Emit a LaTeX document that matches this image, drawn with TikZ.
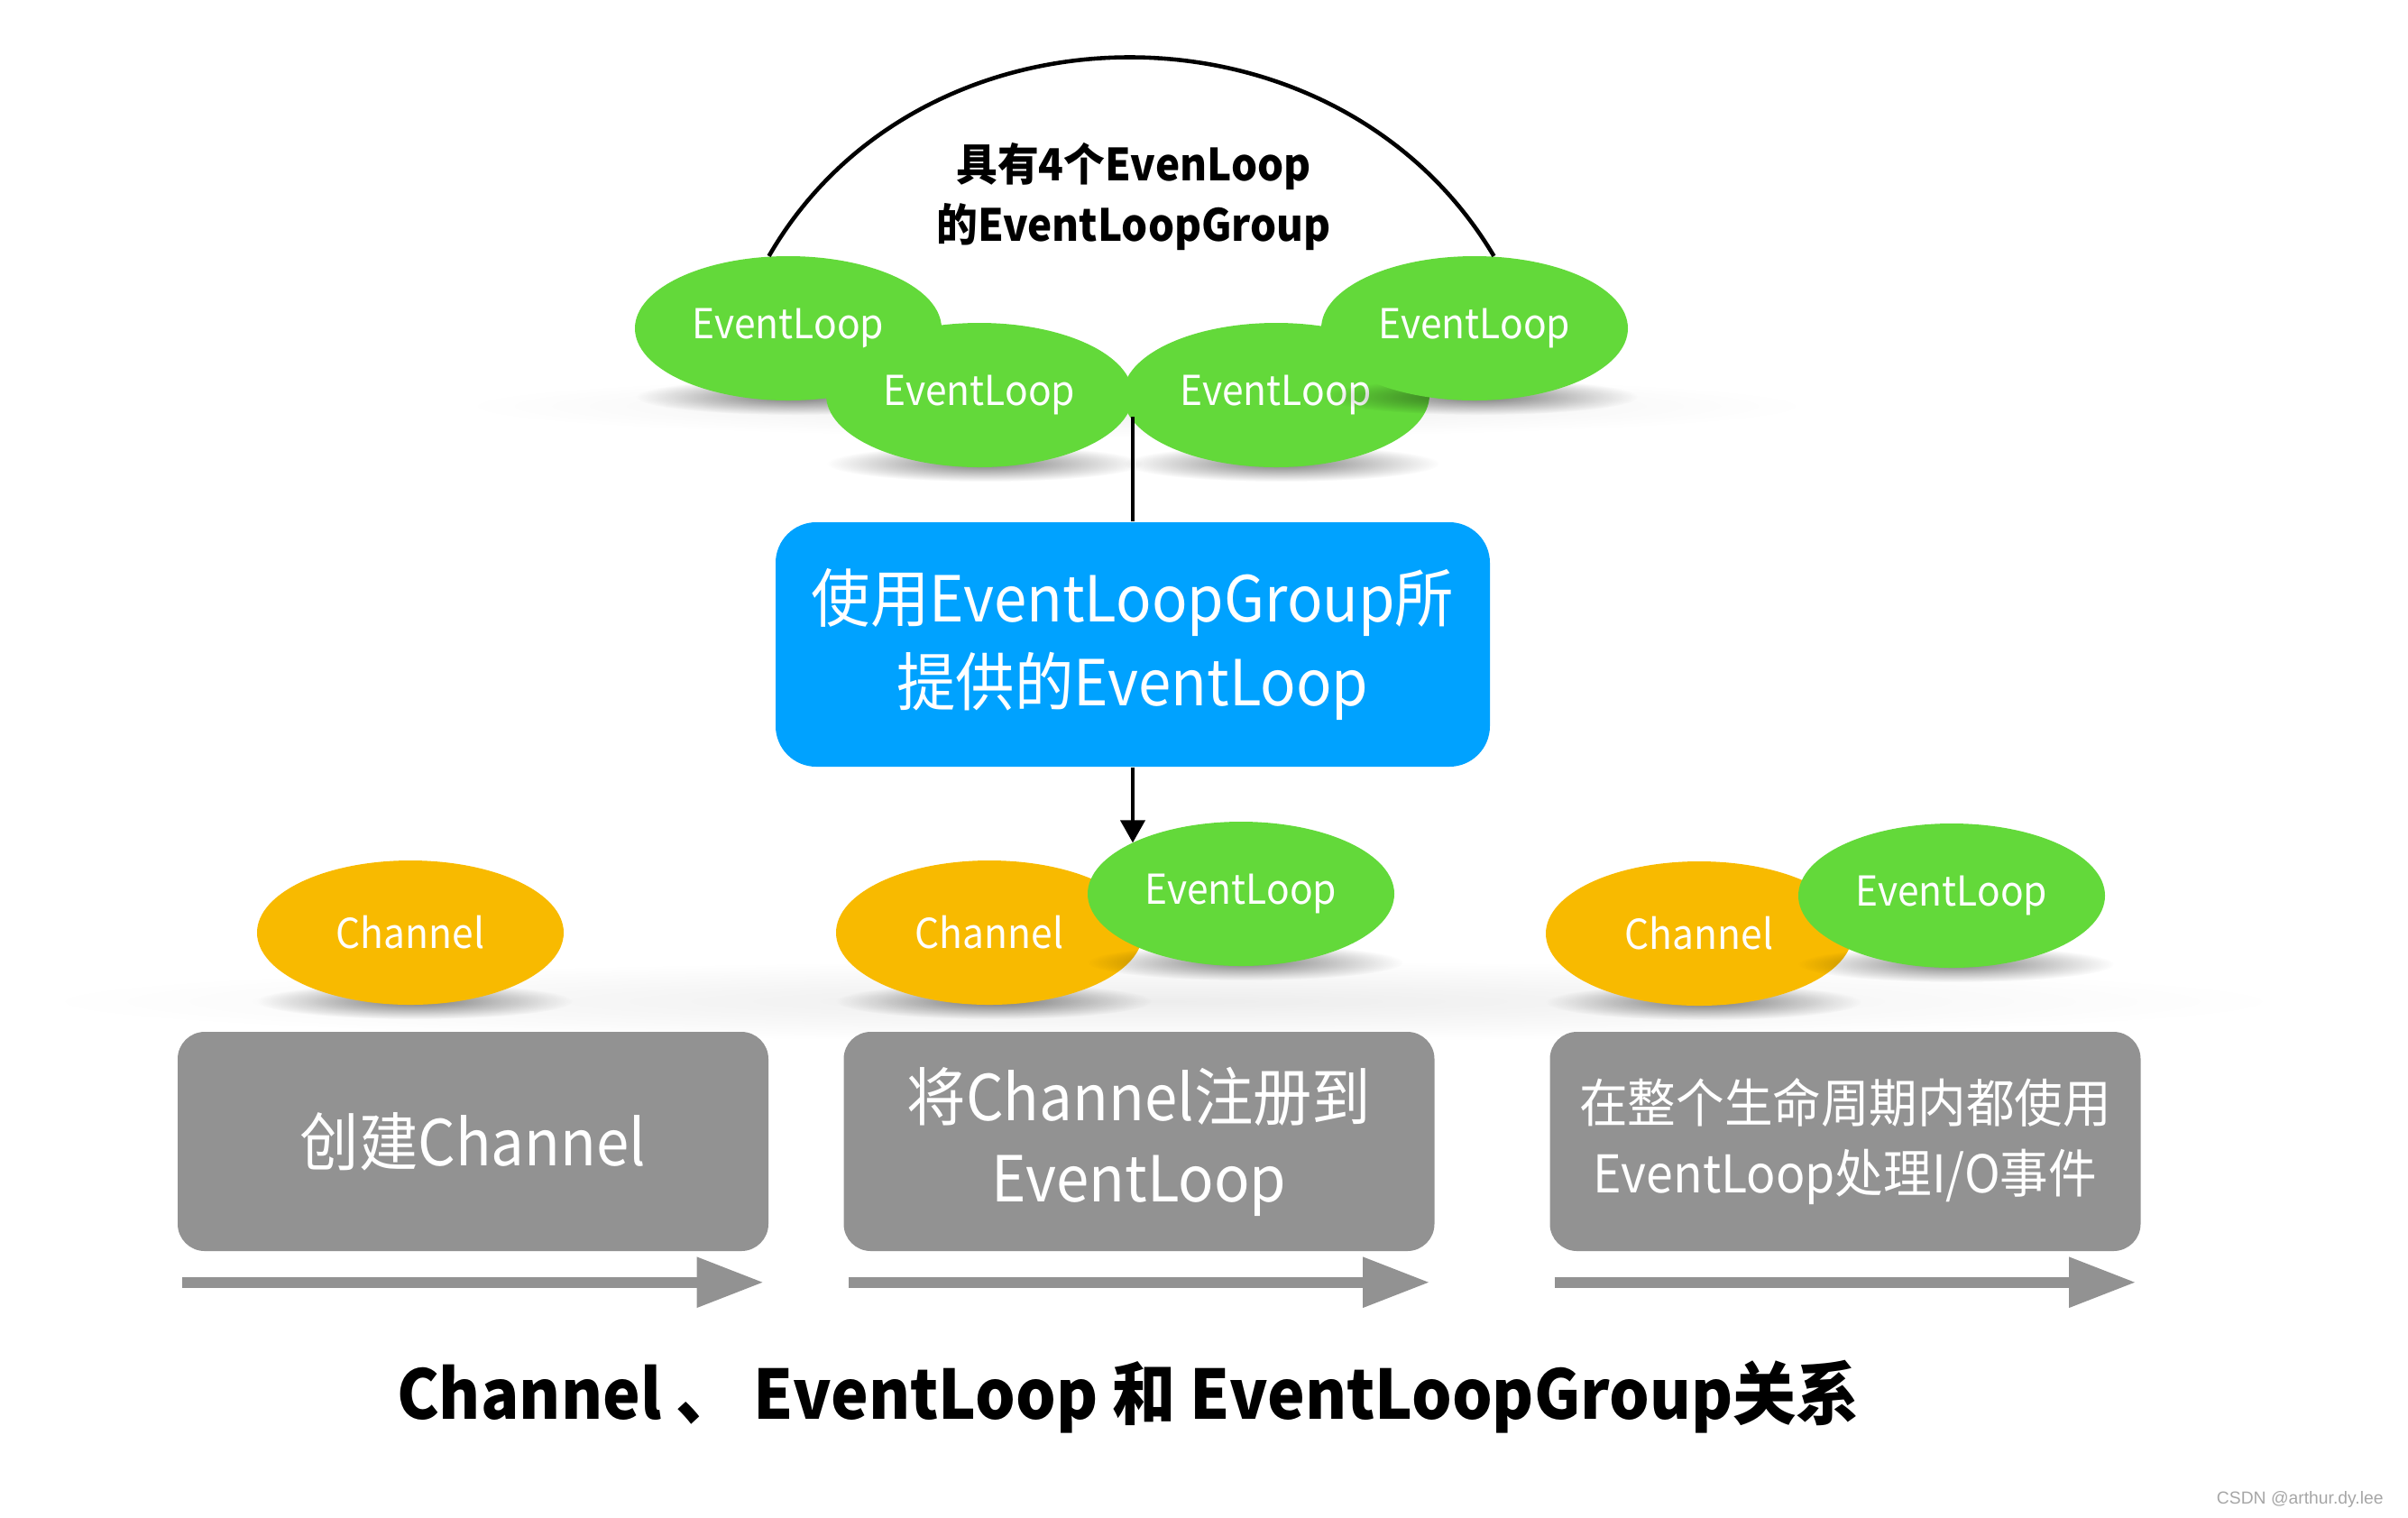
\documentclass[tikz,border=0pt]{standalone}
\usepackage{fontspec}
\setmainfont{Noto Sans CJK SC}[FakeStretch=0.93]
\newfontfamily\wmfont{Liberation Sans}
\usetikzlibrary{shapes.geometric, arrows.meta, calc, fadings}

\definecolor{loopgreen}{RGB}{99,217,58}
\definecolor{chanorange}{RGB}{248,186,0}
\definecolor{groupblue}{RGB}{0,162,255}
\definecolor{stepgray}{RGB}{146,146,146}
\tikzfading[name=soft shadow, inner color=transparent!0, outer color=transparent!100]

\begin{document}
\begin{tikzpicture}[
  blob/.style={ellipse, minimum width=3.4cm, minimum height=1.6cm, inner sep=0pt, text=white, font=\fontsize{13}{15}\selectfont},
  elnode/.style={blob, fill=loopgreen},
  channode/.style={blob, fill=chanorange},
  blur/.style={black, opacity=0.5, path fading=soft shadow},
  stepbox/.style={rounded corners=0.3cm, fill=stepgray, text=white, minimum width=6.55cm, minimum height=2.43cm, align=center},
  flow/.style={stepgray, line width=0.12cm, -{Triangle[length=0.74cm,width=0.53cm]}}
]
\useasboundingbox (0,0) rectangle (26.7,-16.82);

% EventLoopGroup - four EventLoops
\fill[black, opacity=0.07, path fading=soft shadow] (12.6,-4.5) ellipse (7.5 and 0.35);
\fill[blur] (8.8,-4.4) ellipse (1.75 and 0.2);
\node[elnode] (g1) at (8.74,-3.64) {EventLoop};
\fill[blur] (10.92,-5.14) ellipse (1.75 and 0.2);
\node[elnode] (g2) at (10.86,-4.38) {EventLoop};
\fill[blur] (14.21,-5.14) ellipse (1.75 and 0.2);
\node[elnode] (g3) at (14.15,-4.38) {EventLoop};
\fill[blur] (16.41,-4.4) ellipse (1.75 and 0.2);
\node[elnode] (g4) at (16.35,-3.64) {EventLoop};

\draw[line width=1.3pt] (g1.105) .. controls (10.22,0.1) and (14.82,0.1) .. (g4.75);
\node[font=\bfseries\fontsize{14}{19.3}\selectfont, align=center] (grouplabel) at (12.57,-2.18) {具有4个EvenLoop\\的EventLoopGroup};

% picked EventLoop
\coordinate (gap) at (12.56,-4.62);
\node[rounded corners=0.45cm, fill=groupblue, text=white, minimum width=7.92cm, minimum height=2.71cm, align=center,
  font=\fontsize{20}{26.5}\selectfont] (provider) at (12.56,-7.145) {使用EventLoopGroup所\\提供的EventLoop};
\draw[line width=1.2pt] (gap) -- (provider.north);

% Channels and their EventLoops
\fill[black, opacity=0.07, path fading=soft shadow] (12.9,-11.1) ellipse (12.5 and 0.45);
\fill[blur] (4.6,-11.1) ellipse (1.75 and 0.2);
\node[channode] (c1) at (4.55,-10.34) {Channel};
\fill[blur] (11.02,-11.1) ellipse (1.75 and 0.2);
\node[channode] (c2) at (10.97,-10.34) {Channel};
\fill[blur] (13.81,-10.67) ellipse (1.75 and 0.2);
\node[elnode] (r2) at (13.76,-9.91) {EventLoop};
\fill[blur] (18.89,-11.11) ellipse (1.75 and 0.2);
\node[channode] (c3) at (18.84,-10.35) {Channel};
\fill[blur] (21.69,-10.69) ellipse (1.75 and 0.2);
\node[elnode] (r3) at (21.64,-9.93) {EventLoop};

\draw[line width=1.2pt, -{Triangle[length=0.25cm,width=0.27cm]}] (provider.south) -- (provider.south |- r2.155);

% steps
\node[stepbox, font=\fontsize{20}{25.6}\selectfont] (s1) at (5.245,-12.655) {创建Channel};
\node[stepbox, font=\fontsize{20}{25.6}\selectfont] (s2) at (12.63,-12.655) {将Channel注册到\\EventLoop};
\node[stepbox, font=\fontsize{16.4}{22}\selectfont] (s3) at (20.46,-12.655) {在整个生命周期内都使用\\EventLoop处理I/O事件};
\draw[flow] ($(s1.south west)+(0.06,-0.34)$) -- ($(s1.south east)+(-0.06,-0.34)$);
\draw[flow] ($(s2.south west)+(0.06,-0.34)$) -- ($(s2.south east)+(-0.06,-0.34)$);
\draw[flow] ($(s3.south west)+(0.06,-0.34)$) -- ($(s3.south east)+(-0.06,-0.34)$);

\node[anchor=base, font=\bfseries\fontsize{21.5}{24}\selectfont] (title) at (12.51,-15.73) {Channel 、 EventLoop 和 EventLoopGroup关系};
\node[anchor=east, text=gray!70, font=\wmfont\fontsize{5.5}{6}\selectfont] (mark) at (26.55,-16.62) {CSDN @arthur.dy.lee};
\end{tikzpicture}
\end{document}
